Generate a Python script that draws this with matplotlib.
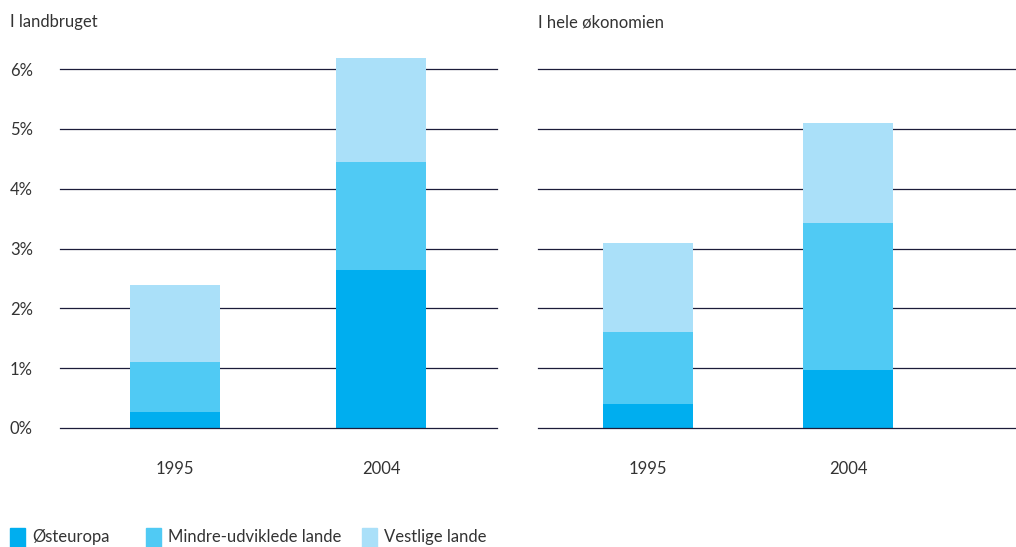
import matplotlib.pyplot as plt
from matplotlib.patches import Rectangle

plt.rcParams['font.family'] = ['Lato', 'DejaVu Sans']

years = ['1995', '2004']
series = ['Østeuropa', 'Mindre-udviklede lande', 'Vestlige lande']
colors = ['#00aeef', '#50caf4', '#aae0f9']

# stacked shares in percent (segment heights)
landbrug_oest = [0.27, 2.64]
landbrug_mindre = [0.83, 1.81]
landbrug_vest = [1.29, 1.74]

oekonomi_oest = [0.40, 0.97]
oekonomi_mindre = [1.21, 2.46]
oekonomi_vest = [1.48, 1.67]

titles = ['I landbruget', 'I hele økonomien']
yticks = [0, 1, 2, 3, 4, 5, 6]

W, H = 1016, 547
fig = plt.figure(figsize=(W / 100, H / 100), dpi=100)

txt = '#333333'
grid = '#1c1c3a'
fs = 12
ytop = 6.3
ph = (428 - 69) / 6 * ytop  # pixel height of axes

ax1 = fig.add_axes([60 / W, (H - 428) / H, 437 / W, ph / H])
ax2 = fig.add_axes([538 / W, (H - 428) / H, 478 / W, ph / H])

panels = [
    (ax1, [landbrug_oest, landbrug_mindre, landbrug_vest], (-0.558, 1.563), 0.44),
    (ax2, [oekonomi_oest, oekonomi_mindre, oekonomi_vest], (-0.55, 1.84), 0.45),
]

for ax, data, xl, bw in panels:
    bottom = [0, 0]
    for vals, c, name in zip(data, colors, series):
        ax.bar([0, 1], vals, bw, bottom=bottom, color=c, zorder=3, label=name)
        bottom = [b + v for b, v in zip(bottom, vals)]
    ax.set_xlim(*xl)
    ax.set_ylim(0, ytop)
    for y in yticks:
        ax.axhline(y, color=grid, lw=0.9, zorder=1 if y else 4, clip_on=False)
    for s in ax.spines.values():
        s.set_visible(False)
    ax.set_xticks([0, 1])
    ax.set_xticklabels(years, fontsize=fs, color=txt)
    ax.tick_params(axis='x', length=0, pad=24)
    ax.set_yticks(yticks)
    ax.tick_params(axis='y', length=0)

ax1.set_yticklabels([f'{y}%' for y in yticks], fontsize=fs, color=txt, ha='left')
ax1.tick_params(axis='y', pad=36)
ax2.set_yticklabels([])

fig.text(10 / W, 1 - 22 / H, titles[0], fontsize=fs, color=txt, va='center')
fig.text(538 / W, 1 - 22 / H, titles[1], fontsize=fs, color=txt, va='center')

# legend along the bottom edge
leg_x = [10, 146, 362]
for x, c, name in zip(leg_x, colors, series):
    fig.add_artist(Rectangle((x / W, 0), 15 / W, 19 / H, color=c, transform=fig.transFigure))
    fig.text((x + 22) / W, 2 / H, name, fontsize=fs, color=txt, va='bottom')

fig.savefig('out.png', dpi=100)
